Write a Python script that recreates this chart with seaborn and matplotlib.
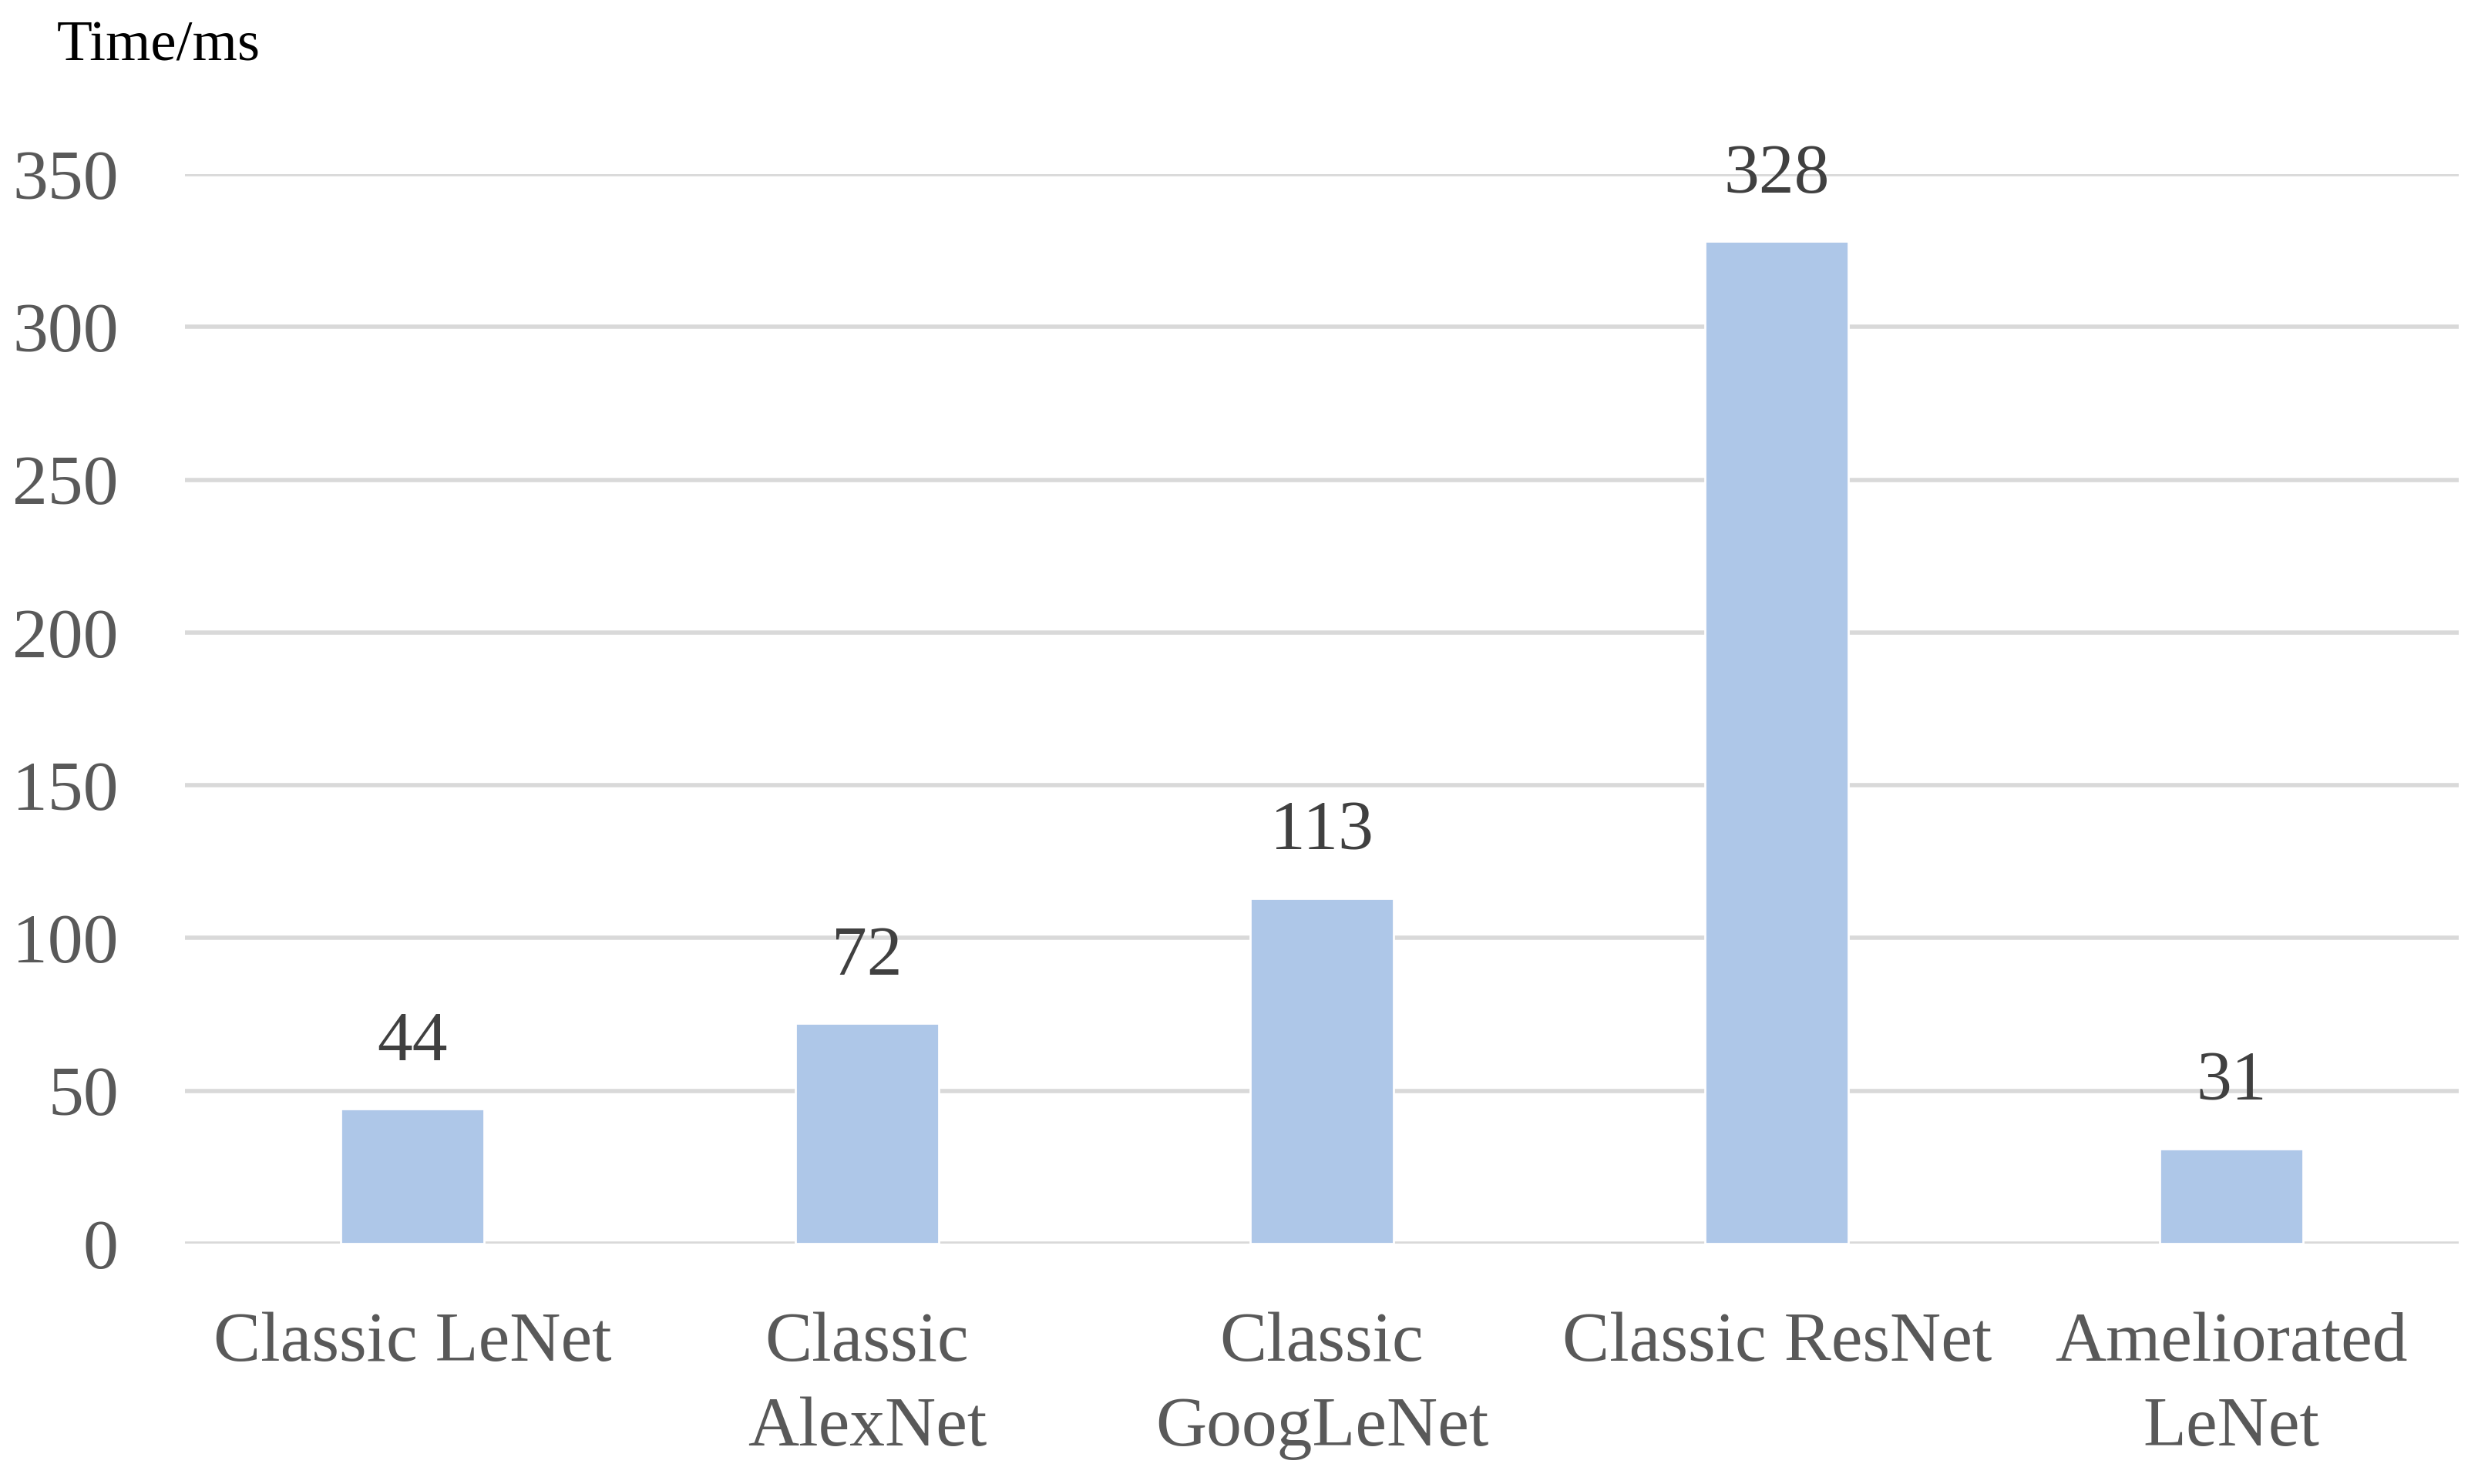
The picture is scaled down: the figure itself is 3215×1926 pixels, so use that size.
import matplotlib
matplotlib.use("Agg")
import matplotlib.pyplot as plt
import seaborn as sns
import pandas as pd

categories = ["Classic LeNet", "Classic\nAlexNet", "Classic\nGoogLeNet", "Classic ResNet", "Ameliorated\nLeNet"]
values = [44, 72, 113, 328, 31]
yticks = [0, 50, 100, 150, 200, 250, 300, 350]

sns.set_theme(style="white")
plt.rcParams['font.family'] = ['Liberation Serif', 'DejaVu Serif']

df = pd.DataFrame({"model": categories, "time": values})

fig = plt.figure(figsize=(16.08, 9.63), dpi=200)
ax = fig.add_axes([0.0746, 0.162, 0.9174, 0.7207])

sns.barplot(data=df, x="model", y="time", color="#AEC7E8", saturation=1,
            width=0.315, ax=ax, zorder=3)

ax.set_ylim(0, 350)
ax.set_xlim(-0.5, 4.5)
ax.set_yticks(yticks)
ax.set_yticklabels([str(t) for t in yticks])
ax.yaxis.grid(True, color="#D9D9D9", linewidth=2.0, zorder=0)
ax.xaxis.grid(False)
ax.set_axisbelow(True)
for s in ax.spines.values():
    s.set_visible(False)
ax.set_xlabel("")
ax.set_ylabel("")
ax.tick_params(axis="y", length=0, pad=31, labelsize=33, labelcolor="#595959")
ax.tick_params(axis="x", length=0, pad=32, labelsize=33, labelcolor="#595959")
for lab in ax.get_xticklabels():
    lab.set_multialignment("center")
    lab.set_linespacing(1.42)

for c in ax.containers:
    ax.bar_label(c, labels=[str(v) for v in values], padding=16,
                 fontsize=33, color="#404040", clip_on=False)

fig.text(0.023, 0.9595, "Time/ms", fontsize=27, color="black", va="baseline", ha="left")

fig.savefig("out.png", dpi=200, facecolor="white")
